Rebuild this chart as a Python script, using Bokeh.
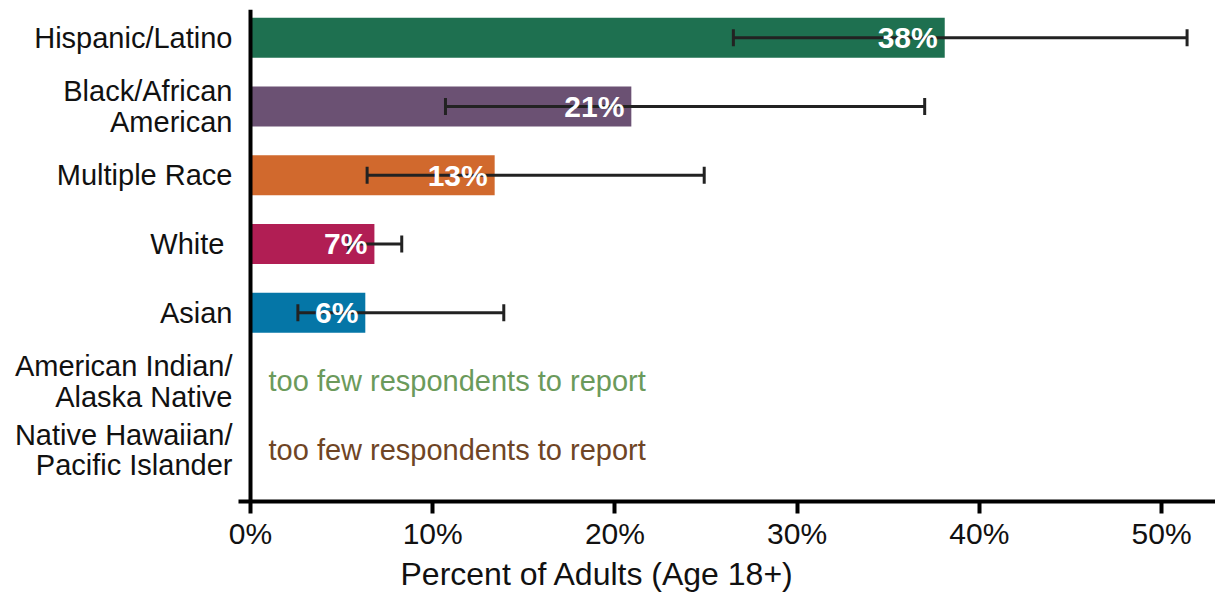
from bokeh.plotting import figure
from bokeh.models import (ColumnDataSource, Range1d, FixedTicker, PrintfTickFormatter,
                          Whisker, TeeHead, Span, Title)
from bokeh.core.properties import value
from bokeh.embed import file_html
from bokeh.resources import INLINE

# ---- data ----
categories = ["Hispanic/Latino", "Black/African\nAmerican", "Multiple Race", "White ",
              "Asian", "American Indian/\nAlaska Native", "Native Hawaiian/\nPacific Islander"]
percent = [38.1, 20.9, 13.4, 6.8, 6.3]
ci_lower = [26.5, 10.7, 6.4, 5.4, 2.6]
ci_upper = [51.4, 37.0, 24.9, 8.3, 13.9]
bar_colors = ["#1E7050", "#6B5173", "#D1692D", "#B11E54", "#0576A7"]
note_text = ["too few respondents to report", "too few respondents to report"]
note_colors = ["#6B9A5B", "#6F4525"]
x_ticks = [0, 10, 20, 30, 40, 50]
x_title = "Percent of Adults (Age 18+)"

n_bars = len(percent)
idx = list(range(len(categories)))

bars = ColumnDataSource(dict(
    y=idx[:n_bars], pct=percent, lower=ci_lower, upper=ci_upper, color=bar_colors,
    label=[f"{round(v)}%" for v in percent],
))
notes = ColumnDataSource(dict(
    y=idx[n_bars:], x=[0] * len(note_text), text=note_text, color=note_colors,
))

p = figure(width=1215, height=592, output_backend="svg", toolbar_location=None,
           x_range=Range1d(-0.659, 52.96), y_range=Range1d(6.746, -0.411),
           min_border_left=238, min_border_right=0, min_border_top=9, min_border_bottom=0)
p.outline_line_color = None
p.xgrid.grid_line_color = None
p.ygrid.grid_line_color = None
p.background_fill_color = "white"
p.border_fill_color = "white"

p.hbar(y="y", right="pct", left=0, height=0.58, color="color", line_color=None, source=bars)

w = Whisker(source=bars, base="y", lower="lower", upper="upper", dimension="width",
            line_width=3, line_color="#222222",
            upper_head=TeeHead(size=17, line_width=3, line_color="#222222"),
            lower_head=TeeHead(size=17, line_width=3, line_color="#222222"))
w.level = "annotation"
p.add_layout(w)

lab = p.text(x="pct", y="y", text="label", source=bars, x_offset=-7,
             text_align="right", text_baseline="middle", text_color="white",
             text_font=value("Liberation Sans"), text_font_style="bold",
             text_font_size="30px")
lab.level = "overlay"

p.text(x="x", y="y", text="text", source=notes, x_offset=18,
       text_align="left", text_baseline="middle", text_color="color",
       text_font=value("Liberation Sans"), text_font_size="29px")

p.add_layout(Span(location=0, dimension="height", line_color="black", line_width=4))

# x axis
xa = p.xaxis[0]
xa.ticker = FixedTicker(ticks=x_ticks)
xa.formatter = PrintfTickFormatter(format="%d%%")
xa.minor_tick_line_color = None
xa.axis_line_width = 4
xa.axis_line_color = "black"
xa.major_tick_line_width = 4
xa.major_tick_line_color = "black"
xa.major_tick_in = 0
xa.major_tick_out = 12
xa.major_label_standoff = 3
xa.major_label_text_font = "Liberation Sans"
xa.major_label_text_font_size = "30px"
xa.major_label_text_color = "#111111"

# x axis title (offset to the left like the original)
t = Title(text=x_title, align="left", offset=162, standoff=2,
          text_font="Liberation Sans", text_font_size="32px",
          text_font_style="normal", text_color="#111111")
p.add_layout(t, "below")

# y axis
ya = p.yaxis[0]
ya.ticker = FixedTicker(ticks=idx)
ya.major_label_overrides = {i: c for i, c in zip(idx, categories)}
ya.axis_line_color = None
ya.major_tick_line_color = None
ya.minor_tick_line_color = None
ya.major_tick_in = 0
ya.major_tick_out = 0
ya.major_label_standoff = 6
ya.major_label_text_font = "Liberation Sans"
ya.major_label_text_font_size = "29px"
ya.major_label_text_color = "#111111"
ya.major_label_text_line_height = 0.95

open("out.html", "w").write(file_html(p, INLINE))
